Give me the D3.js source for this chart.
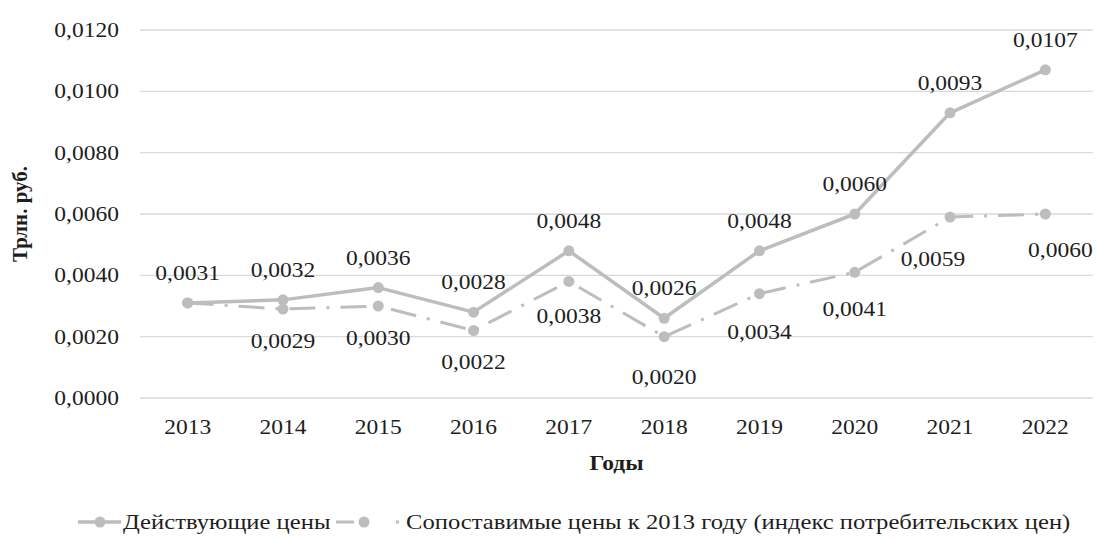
<!DOCTYPE html>
<html>
<head>
<meta charset="utf-8">
<script src="https://cdn.jsdelivr.net/npm/d3@7/dist/d3.min.js"></script>
<style>
  html, body { margin: 0; padding: 0; background: #fff; }
  svg text { font-family: "Liberation Serif", "Times New Roman", serif; fill: #1e1e1e; }
</style>
</head>
<body>
<svg id="chart" width="1097" height="539"></svg>
<script>
// Годы
const years = ["2013", "2014", "2015", "2016", "2017", "2018", "2019", "2020", "2021", "2022"];
// Действующие цены, трлн. руб.
const currentPrices = [0.0031, 0.0032, 0.0036, 0.0028, 0.0048, 0.0026, 0.0048, 0.0060, 0.0093, 0.0107];
// Сопоставимые цены к 2013 году
const comparablePrices = [0.0031, 0.0029, 0.0030, 0.0022, 0.0038, 0.0020, 0.0034, 0.0041, 0.0059, 0.0060];
const yTicks = [0, 0.002, 0.004, 0.006, 0.008, 0.010, 0.012];
const seriesNames = ["Действующие цены", "Сопоставимые цены к 2013 году (индекс потребительских цен)"];

const fmt = v => d3.format(".4f")(v).replace(".", ",");

const FS = 21;        // font size
const SX = 1.12;      // horizontal text stretch

const svg = d3.select("#chart");
const margin = { left: 140, right: 4, top: 30, bottom: 141 };
const W = 1097, H = 539;

const x = d3.scaleBand().domain(years).range([margin.left, W - margin.right]);
const y = d3.scaleLinear().domain([0, 0.012]).range([H - margin.bottom, margin.top]);
const cx = d => x(d) + x.bandwidth() / 2;

// text placed at (px, py), stretched horizontally around its anchor
function label(g, px, py, str, opts = {}) {
  return g.append("text")
    .attr("transform", `translate(${px},${py}) scale(${SX},1)`)
    .attr("text-anchor", opts.anchor || "middle")
    .attr("dy", opts.dy || 0)
    .attr("font-size", opts.size || FS)
    .attr("font-weight", opts.bold ? "bold" : null)
    .text(str);
}

// grid lines
svg.append("g").selectAll("line").data(yTicks).join("line")
  .attr("x1", margin.left).attr("x2", W - margin.right)
  .attr("y1", d => y(d)).attr("y2", d => y(d))
  .attr("stroke", "#d9d9d9").attr("stroke-width", 1.4);

// y tick labels
const gy = svg.append("g");
yTicks.forEach(t => label(gy, 119, y(t), fmt(t), { anchor: "end", dy: "0.33em" }));

// x tick labels
const gx = svg.append("g");
years.forEach(yr => label(gx, cx(yr), y(0) + 36, yr));

// axis titles
label(svg, (x.range()[0] + x.range()[1]) / 2, 470, "Годы", { bold: true });
svg.append("text").attr("transform", `translate(27,${y(0.006)}) rotate(-90)`)
  .attr("text-anchor", "middle").attr("font-size", FS).attr("font-weight", "bold").text("Трлн. руб.");

const lineGen = d3.line().x((d, i) => cx(years[i])).y(d => y(d));
const gray = "#bdbdbd";
const dashPattern = "26,11,3,11";

// comparable prices (long dash-dot)
svg.append("path").datum(comparablePrices)
  .attr("d", lineGen).attr("fill", "none").attr("stroke", gray)
  .attr("stroke-width", 3).attr("stroke-dasharray", dashPattern);
svg.append("g").selectAll("circle").data(comparablePrices).join("circle")
  .attr("cx", (d, i) => cx(years[i])).attr("cy", d => y(d)).attr("r", 5.5).attr("fill", gray);

// current prices (solid)
svg.append("path").datum(currentPrices)
  .attr("d", lineGen).attr("fill", "none").attr("stroke", gray).attr("stroke-width", 3.5)
  .attr("stroke-linejoin", "round");
svg.append("g").selectAll("circle").data(currentPrices).join("circle")
  .attr("cx", (d, i) => cx(years[i])).attr("cy", d => y(d)).attr("r", 5.5).attr("fill", gray);

// value labels: current prices above the points
const gl = svg.append("g");
currentPrices.forEach((v, i) => label(gl, cx(years[i]), y(v) - 30, fmt(v), { dy: "0.33em" }));

// value labels: comparable prices below the points (2013 coincides with the solid line)
const belowShift = { "2017": 3, "2018": 8, "2019": 6, "2020": 5, "2021": 10, "2022": 4 };
const sideShift = { "2021": -17, "2022": 15 };
comparablePrices.forEach((v, i) => {
  if (i === 0) return;
  const yr = years[i];
  label(gl, cx(yr) + (sideShift[yr] || 0), y(v) + 32 + (belowShift[yr] || 0), fmt(v), { dy: "0.33em" });
});

// legend
const lg = svg.append("g").attr("transform", "translate(0,522)");
lg.append("line").attr("x1", 78).attr("x2", 121).attr("stroke", gray).attr("stroke-width", 3.5);
lg.append("circle").attr("cx", 100).attr("r", 5.5).attr("fill", gray);
label(lg, 123, 0, seriesNames[0], { anchor: "start", dy: "0.33em", size: 22 });
lg.append("line").attr("x1", 336).attr("x2", 400).attr("stroke", gray).attr("stroke-width", 3)
  .attr("stroke-dasharray", "18,12,3,100");
lg.append("circle").attr("cx", 364).attr("r", 5.5).attr("fill", gray);
lg.append("line").attr("x1", 396).attr("x2", 399).attr("stroke", gray).attr("stroke-width", 3);
label(lg, 406, 0, seriesNames[1], { anchor: "start", dy: "0.33em", size: 22 });
</script>
</body>
</html>
